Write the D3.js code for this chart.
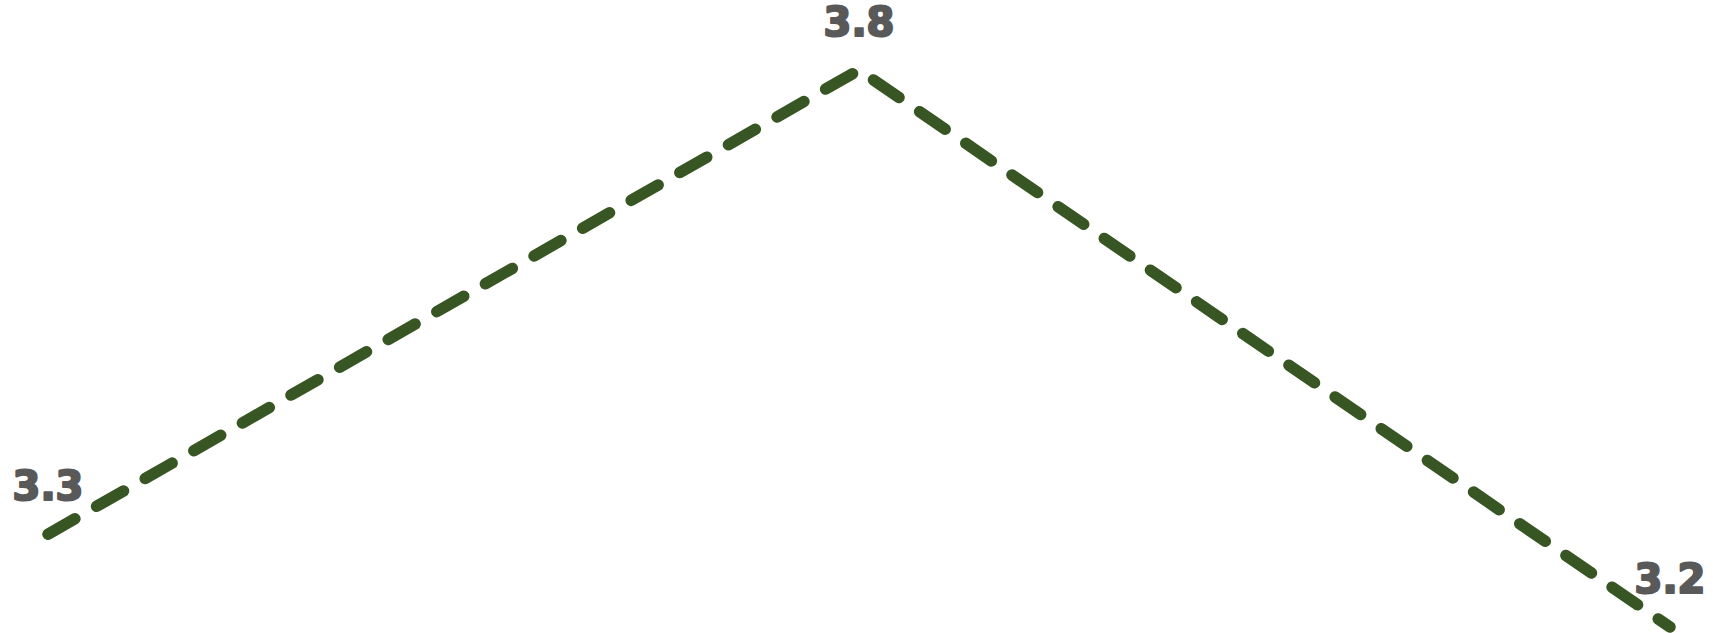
<!DOCTYPE html>
<html>
<head>
<meta charset="utf-8">
<script src="https://cdn.jsdelivr.net/npm/d3@7"></script>
<style>
  html, body { margin: 0; padding: 0; background: #ffffff; }
  svg { display: block; }
</style>
</head>
<body>
<script>
const categories = ["P1", "P2", "P3"];
const values = [3.3, 3.8, 3.2];
const labels = ["3.3", "3.8", "3.2"];

const W = 1713, H = 633;
const svg = d3.select("body").append("svg").attr("width", W).attr("height", H);

const x = d3.scalePoint().domain(categories).range([48, 1670]);
const y = d3.scaleLinear().domain([3.2, 3.8]).range([627, 70]);

const line = d3.line()
  .x((d, i) => x(categories[i]))
  .y(d => y(d));

svg.append("path")
  .datum(values)
  .attr("d", line)
  .attr("fill", "none")
  .attr("stroke", "#375623")
  .attr("stroke-width", 11.5)
  .attr("stroke-linecap", "round")
  .attr("stroke-linejoin", "round")
  .attr("stroke-dasharray", "31,25");

svg.selectAll("text.lbl")
  .data(values)
  .enter().append("text")
  .attr("class", "lbl")
  .attr("x", (d, i) => x(categories[i]))
  .attr("y", d => y(d) - 34)
  .attr("text-anchor", "middle")
  .attr("font-family", "'DejaVu Sans', sans-serif")
  .attr("font-weight", "bold")
  .attr("font-size", 40)
  .attr("fill", "#595959")
  .attr("stroke", "#595959")
  .attr("stroke-width", 2.2)
  .attr("stroke-linejoin", "round")
  .attr("paint-order", "stroke")
  .text((d, i) => labels[i]);
</script>
</body>
</html>
